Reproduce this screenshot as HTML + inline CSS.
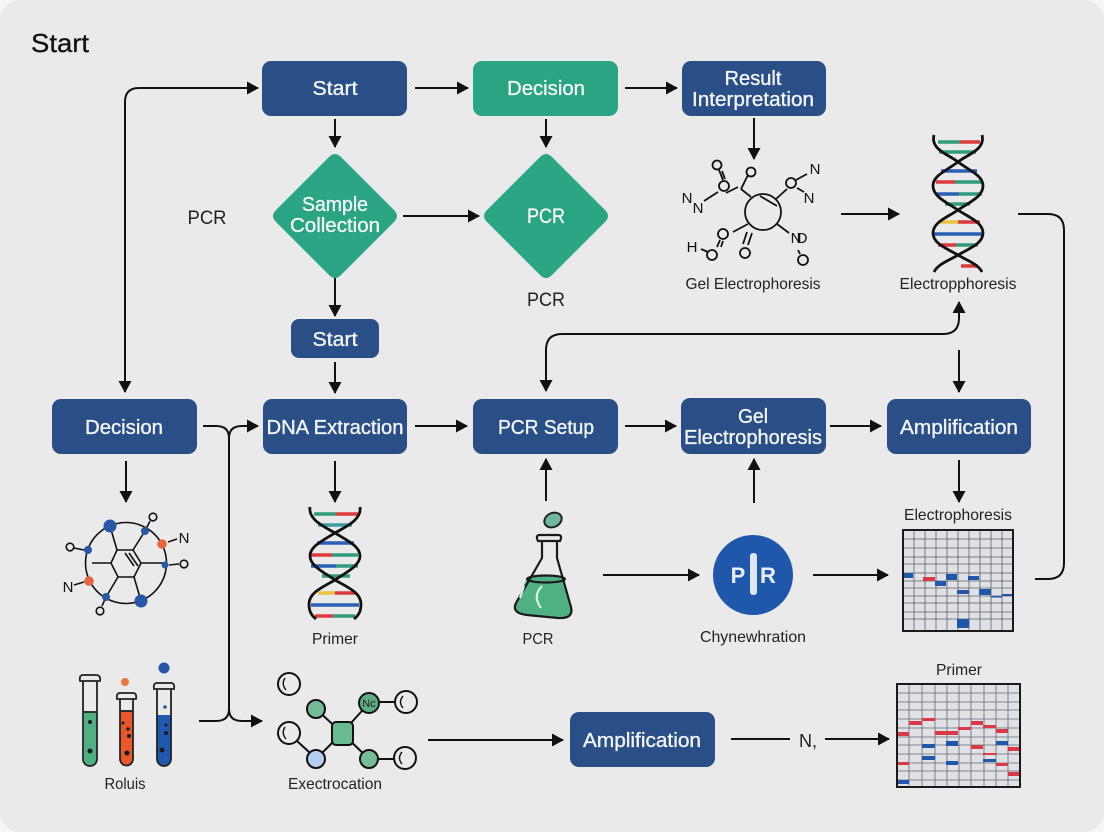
<!DOCTYPE html>
<html><head><meta charset="utf-8"><style>
html,body{margin:0;padding:0;background:#f6f6f6;width:1104px;height:832px;overflow:hidden}
svg{display:block}
text{font-family:"Liberation Sans",sans-serif;text-anchor:middle}
.b{fill:#f2f5f9;font-size:20px;stroke:#f2f5f9;stroke-width:.35}
.l{fill:#222;font-size:16px}
.c{fill:none;stroke:#111;stroke-width:2}
.r{fill:#2a4f86}
.g{fill:#2aa583}
.m{fill:none;stroke:#111;stroke-width:1.8}
.a{fill:#111;font-size:15px}
</style></head><body>
<svg width="1104" height="832" viewBox="0 0 1104 832" xmlns="http://www.w3.org/2000/svg">
<defs>
<marker id="h" markerUnits="userSpaceOnUse" markerWidth="13" markerHeight="14" refX="11" refY="6.5" orient="auto-start-reverse"><path d="M0 0L12 6.5L0 13Z" fill="#111"/></marker>
</defs>
<rect x="0" y="0" width="1104" height="832" rx="20" fill="#eaeaeb"/>
<text x="60" y="52" style="font-size:26px;fill:#111;stroke:#111;stroke-width:.3" textLength="58" lengthAdjust="spacingAndGlyphs">Start</text>

<!-- boxes -->
<rect class="r" x="262" y="61" width="145" height="55" rx="9"/>
<rect class="g" x="473" y="61" width="145" height="55" rx="9"/>
<rect class="r" x="682" y="61" width="144" height="55" rx="9"/>
<path class="g" d="M329 157Q335 151 341 157L394 210Q400 216 394 222L341 275Q335 281 329 275L276 222Q270 216 276 210Z"/>
<path class="g" d="M540 157Q546 151 552 157L605 210Q611 216 605 222L552 275Q546 281 540 275L487 222Q481 216 487 210Z"/>
<rect class="r" x="291" y="319" width="88" height="39" rx="8"/>
<rect class="r" x="52" y="399" width="145" height="55" rx="9"/>
<rect class="r" x="263" y="399" width="144" height="55" rx="9"/>
<rect class="r" x="473" y="399" width="145" height="55" rx="9"/>
<rect class="r" x="681" y="398" width="145" height="56" rx="9"/>
<rect class="r" x="887" y="399" width="144" height="55" rx="9"/>
<rect class="r" x="570" y="712" width="145" height="55" rx="9"/>

<text class="b" x="335" y="95" textLength="45" lengthAdjust="spacingAndGlyphs">Start</text>
<text class="b" x="546" y="95" textLength="78" lengthAdjust="spacingAndGlyphs">Decision</text>
<text class="b" x="753" y="85" textLength="57" lengthAdjust="spacingAndGlyphs">Result</text>
<text class="b" x="753" y="106" textLength="122" lengthAdjust="spacingAndGlyphs">Interpretation</text>
<text class="b" x="335" y="211" textLength="66" lengthAdjust="spacingAndGlyphs">Sample</text>
<text class="b" x="335" y="232" textLength="90" lengthAdjust="spacingAndGlyphs">Collection</text>
<text class="b" x="546" y="223" textLength="38" lengthAdjust="spacingAndGlyphs" style="font-size:21px">PCR</text>
<text class="b" x="335" y="346" textLength="45" lengthAdjust="spacingAndGlyphs">Start</text>
<text class="b" x="124" y="434" textLength="78" lengthAdjust="spacingAndGlyphs">Decision</text>
<text class="b" x="335" y="434" textLength="137" lengthAdjust="spacingAndGlyphs">DNA Extraction</text>
<text class="b" x="546" y="434" textLength="96" lengthAdjust="spacingAndGlyphs">PCR Setup</text>
<text class="b" x="753" y="423" textLength="30" lengthAdjust="spacingAndGlyphs">Gel</text>
<text class="b" x="753" y="444" textLength="138" lengthAdjust="spacingAndGlyphs">Electrophoresis</text>
<text class="b" x="959" y="434" textLength="118" lengthAdjust="spacingAndGlyphs">Amplification</text>
<text class="b" x="642" y="747" textLength="118" lengthAdjust="spacingAndGlyphs">Amplification</text>

<!-- connectors -->
<g class="c">
<path d="M125 392V102Q125 88 139 88H258" marker-start="url(#h)" marker-end="url(#h)"/>
<path d="M415 88H468" marker-end="url(#h)"/>
<path d="M625 88H677" marker-end="url(#h)"/>
<path d="M335 119V147" marker-end="url(#h)"/>
<path d="M546 119V147" marker-end="url(#h)"/>
<path d="M754 118V159" marker-end="url(#h)"/>
<path d="M403 216H479" marker-end="url(#h)"/>
<path d="M335 278V316" marker-end="url(#h)"/>
<path d="M335 362V393" marker-end="url(#h)"/>
<path d="M415 426H467" marker-end="url(#h)"/>
<path d="M625 426H676" marker-end="url(#h)"/>
<path d="M830 426H881" marker-end="url(#h)"/>
<path d="M959 350V392" marker-end="url(#h)"/>
<path d="M546 391V350Q546 334 562 334H943Q959 334 959 318V302" marker-start="url(#h)" marker-end="url(#h)"/>
<path d="M841 214H899" marker-end="url(#h)"/>
<path d="M1018 214H1048Q1064 214 1064 230V563Q1064 579 1048 579H1035"/>
<path d="M203 426H216Q229 426 229 438V709Q229 721 216 721H199"/>
<path d="M229 438Q229 426 242 426H258" marker-end="url(#h)"/>
<path d="M229 709Q229 721 242 721H262" marker-end="url(#h)"/>
<path d="M126 461V502" marker-end="url(#h)"/>
<path d="M335 461V502" marker-end="url(#h)"/>
<path d="M546 501V459" marker-end="url(#h)"/>
<path d="M754 503V459" marker-end="url(#h)"/>
<path d="M959 460V502" marker-end="url(#h)"/>
<path d="M603 575H699" marker-end="url(#h)"/>
<path d="M813 575H888" marker-end="url(#h)"/>
<path d="M428 740H563" marker-end="url(#h)"/>
<path d="M731 739H790"/>
<path d="M825 739H889" marker-end="url(#h)"/>
</g>
<text x="808" y="747" style="font-size:18px;fill:#222">N,</text>

<!-- top molecule -->
<g class="m">
<circle cx="763" cy="212" r="18"/>
<path d="M760 196L777 206"/>
<path d="M751 197L741 189M738 187L726 193"/>
<path d="M741 189L748 175"/>
<circle cx="751" cy="172" r="4.5"/><circle cx="724" cy="186" r="5"/><circle cx="717" cy="165" r="4.5"/>
<path d="M719 170L723 180M722 171L725 179"/>
<path d="M704 201L718 192"/>
<path d="M776 199L787 189"/><circle cx="791" cy="183" r="5"/>
<path d="M796 180L807 174M797 188L804 192"/>
<path d="M748 224L733 232"/><circle cx="723" cy="234" r="5"/><path d="M720 240L717 247M723 241L721 247"/>
<circle cx="712" cy="255" r="5"/><path d="M701 249L708 252"/>
<path d="M747 232L743 244M752 233L748 245"/><circle cx="745" cy="253" r="5"/>
<path d="M777 224L789 233"/><path d="M798 250L800 254"/><circle cx="803" cy="260" r="5"/>
</g>
<g class="a"><text x="687" y="203">N</text><text x="698" y="213">N</text><text x="815" y="174">N</text><text x="809" y="203">N</text><text x="692" y="252">H</text><text x="796" y="243">N</text><text x="802" y="243">D</text></g>

<!-- top DNA -->
<g stroke-width="3.5" fill="none">
<path d="M938 142H960" stroke="#2e9c7d"/><path d="M960 142H980" stroke="#dd3a3c"/>
<path d="M939 152H976" stroke="#2e9c7d"/>
<path d="M941 171H977" stroke="#2a5fb5"/>
<path d="M936 182H955" stroke="#dd3a3c"/><path d="M955 182H982" stroke="#2e9c7d"/>
<path d="M936 194H959" stroke="#2a5fb5"/><path d="M959 194H982" stroke="#2e9c7d"/>
<path d="M945 204H970" stroke="#2e9c7d"/>
<path d="M940 222H958" stroke="#eac341"/><path d="M958 222H980" stroke="#dd3a3c"/>
<path d="M934 234H983" stroke="#2a5fb5"/>
<path d="M938 245H956" stroke="#dd3a3c"/><path d="M956 245H978" stroke="#2e9c7d"/>
<path d="M961 266H978" stroke="#dd3a3c"/>
</g>
<g class="c" style="stroke-width:2.8">
<path d="M934 135C930 150 950 155 958 162C972 172 983 176 983 186C983 197 968 203 958 210C948 217 933 222 933 233C933 244 948 249 958 255C968 261 978 264 982 272"/>
<path d="M982 135C986 150 966 155 958 162C944 172 933 176 933 186C933 197 948 203 958 210C968 217 983 222 983 233C983 244 968 249 958 255C948 261 938 264 934 272"/>
</g>

<!-- mid DNA -->
<g stroke-width="3.5" fill="none">
<path d="M314 514H336" stroke="#2e9c7d"/><path d="M336 514H358" stroke="#dd3a3c"/>
<path d="M318 525H352" stroke="#3b9ea0"/>
<path d="M317 543H354" stroke="#2a5fb5"/>
<path d="M311 555H332" stroke="#dd3a3c"/><path d="M332 555H358" stroke="#2e9c7d"/>
<path d="M311 566H336" stroke="#2a5fb5"/><path d="M336 566H358" stroke="#2e9c7d"/>
<path d="M322 576H350" stroke="#2e9c7d"/>
<path d="M318 593H335" stroke="#eac341"/><path d="M335 593H355" stroke="#dd3a3c"/>
<path d="M311 605H359" stroke="#2a5fb5"/>
<path d="M315 616H333" stroke="#dd3a3c"/><path d="M333 616H355" stroke="#2e9c7d"/>
</g>
<g class="c" style="stroke-width:2.8">
<path d="M310 507C308 520 325 527 335 533C350 542 360 547 360 556C360 566 345 573 335 580C325 586 309 592 309 604C309 611 311 615 316 619"/>
<path d="M360 507C362 520 345 527 335 533C320 542 310 547 310 556C310 566 325 573 335 580C345 586 361 592 361 604C361 611 359 615 354 619"/>
</g>

<!-- left molecule -->
<g class="m" style="stroke-width:1.6">
<circle cx="126" cy="563" r="40.5"/>
<path d="M117 550H133L141 563L134 577H118L111 563Z"/>
<path d="M129 553L138 566M125 553L134 566"/>
<path d="M117 550L110 526M133 550L145 531M141 563H165M111 563H92M134 577L141 601M118 577L106 597"/>
<path d="M145 531L150 521M168 542L177 539M169 565L179 564M84 550L74 548M106 597L102 606M74 585L84 582"/>
<circle cx="153" cy="517" r="3.8"/><circle cx="70" cy="547" r="3.8"/><circle cx="184" cy="564" r="3.8"/><circle cx="100" cy="611" r="3.8"/>
</g>
<g fill="#2757a7"><circle cx="110" cy="526" r="6.5"/><circle cx="145" cy="531" r="4"/><circle cx="165" cy="565" r="3.5"/><circle cx="141" cy="601" r="6.5"/><circle cx="106" cy="597" r="4"/><circle cx="88" cy="550" r="4"/></g>
<g fill="#e8643f"><circle cx="162" cy="544" r="4.8"/><circle cx="89" cy="581" r="4.8"/></g>
<text class="a" x="184" y="543">N</text><text class="a" x="68" y="592">N</text>

<!-- tubes -->
<path d="M84 712H97V759A6.5 6.5 0 0 1 84 759Z" fill="#4fb083"/>
<path d="M120 711H133V759A6.5 6.5 0 0 1 120 759Z" fill="#e9582a"/>
<path d="M157 715H171V759A7 7 0 0 1 157 759Z" fill="#2159ae"/>
<g class="m" style="stroke:#222">
<path d="M83 681V759A7 7 0 0 0 97 759V681M80 681Q79 675 83 675H96Q101 675 100 681Z"/>
<path d="M84 712H97"/>
<path d="M120 699V759A6.5 6.5 0 0 0 133 759V699M117 699Q116 693 120 693H133Q137 693 136 699Z"/>
<path d="M120 711H133"/>
<path d="M157 689V759A7 7 0 0 0 171 759V689M154 689Q153 683 157 683H171Q175 683 174 689Z"/>
</g>
<circle cx="125" cy="682" r="4" fill="#e8773f"/><circle cx="164" cy="668" r="5.5" fill="#2757a7"/>
<g fill="#1a1a1a"><circle cx="90" cy="722" r="2"/><circle cx="90" cy="751" r="2.5"/><circle cx="123" cy="723" r="1.5"/><circle cx="128" cy="729" r="1.7"/><circle cx="129" cy="736" r="2"/><circle cx="127" cy="753" r="2.5"/><circle cx="166" cy="725" r="1.5"/><circle cx="166" cy="733" r="2"/><circle cx="162" cy="750" r="2.5"/></g>
<circle cx="165" cy="707" r="1.8" fill="#2757a7"/>

<!-- network molecule -->
<g class="m" style="stroke-width:2">
<path d="M316 709L342 733L369 703M342 733L316 759M342 733L369 759M379 702H395M378 759H394M297 741L309 752"/>
<rect x="332" y="722" width="21" height="23" rx="4" fill="#6bbb92"/>
<circle cx="316" cy="709" r="9" fill="#74bd98"/>
<circle cx="369" cy="703" r="10" fill="#5bad85"/>
<circle cx="369" cy="759" r="9" fill="#74bd98"/>
<circle cx="316" cy="759" r="9" fill="#b7cdf0"/>
<circle cx="289" cy="684" r="11"/><circle cx="289" cy="733" r="11"/><circle cx="406" cy="702" r="11"/><circle cx="405" cy="758" r="11"/>
<path d="M285 678Q281 684 286 690M285 727Q281 733 286 739M403 696Q398 702 403 708M402 752Q397 758 402 764" style="stroke-width:1.4"/>
</g>
<text x="369" y="707" style="font-size:11px;fill:#222">Nc</text>

<!-- flask -->
<ellipse cx="553" cy="520" rx="9" ry="7" fill="#6fb89b" stroke="#222" stroke-width="2" transform="rotate(-25 553 520)"/>
<path d="M527 578Q545 573 564 578L571 607Q573 618 560 618L527 615Q512 613 516 603Z" fill="#4fb083"/>
<g class="m" style="stroke-width:2.2;stroke:#1a1a1a">
<path d="M542 541V558L516 603Q511 613 527 615L558 618Q574 619 571 607L557 558V541"/>
<path d="M538 541Q535 535 540 535H558Q563 535 560 541Z"/>
<ellipse cx="546" cy="579" rx="19" ry="3.5"/>
</g>
<path d="M542 586Q532 596 541 608M524 586L520 598" stroke="#d6f0e3" stroke-width="2.2" fill="none"/>

<!-- PCR circle -->
<circle cx="753" cy="575" r="40" fill="#1f57ab"/>
<rect x="750" y="553" width="7" height="42" rx="3" fill="#dfe7f5"/>
<text x="738" y="583" style="font-size:22px;font-weight:bold;fill:#e8eef8">P</text>
<text x="768" y="583" style="font-size:22px;font-weight:bold;fill:#e8eef8">R</text>

<!-- grid 1 -->
<rect x="903" y="530" width="110" height="101" fill="#dfe1e5"/>
<path d="M914 530V631M925 530V631M936 530V631M947 530V631M958 530V631M969 530V631M980 530V631M991 530V631M1002 530V631M903 539H1013M903 548H1013M903 557H1013M903 564H1013M903 573H1013M903 581H1013M903 588H1013M903 596H1013M903 603H1013M903 612H1013M903 619H1013" stroke="#5c6068" stroke-width=".8" fill="none"/>
<g fill="#1f57ab"><rect x="904" y="573" width="9" height="5"/><rect x="935" y="581" width="11" height="5"/><rect x="946" y="574" width="11" height="6"/><rect x="957" y="590" width="12" height="4"/><rect x="968" y="576" width="11" height="4"/><rect x="979" y="589" width="12" height="6"/><rect x="991" y="596" width="11" height="1.5"/><rect x="1002" y="594" width="10" height="2"/><rect x="957" y="619" width="12" height="9"/></g>
<rect x="923" y="577" width="12" height="4" fill="#d93a45"/>
<rect x="903" y="530" width="110" height="101" fill="none" stroke="#1a1a1a" stroke-width="2"/>

<!-- grid 2 -->
<rect x="897" y="684" width="123" height="103" fill="#dfe1e5"/>
<path d="M909 684V787M922 684V787M935 684V787M947 684V787M959 684V787M971 684V787M984 684V787M996 684V787M1008 684V787M897 693H1020M897 702H1020M897 710H1020M897 719H1020M897 728H1020M897 737H1020M897 745H1020M897 754H1020M897 763H1020M897 771H1020M897 780H1020" stroke="#666a72" stroke-width=".8" fill="none"/>
<g fill="#d93a45"><rect x="898" y="732" width="11" height="4"/><rect x="909" y="721" width="13" height="4"/><rect x="922" y="718" width="13" height="3"/><rect x="935" y="731" width="11" height="4"/><rect x="946" y="731" width="12" height="4"/><rect x="958" y="727" width="13" height="3"/><rect x="971" y="721" width="12" height="4"/><rect x="983" y="725" width="13" height="3"/><rect x="996" y="729" width="12" height="4"/><rect x="971" y="745" width="12" height="4"/><rect x="1008" y="747" width="12" height="4"/><rect x="983" y="753" width="13" height="2"/><rect x="996" y="763" width="12" height="3"/><rect x="1008" y="772" width="12" height="4"/><rect x="898" y="762" width="11" height="3"/></g>
<g fill="#1f57ab"><rect x="922" y="744" width="13" height="4"/><rect x="946" y="741" width="12" height="5"/><rect x="996" y="741" width="12" height="4"/><rect x="922" y="756" width="13" height="4"/><rect x="946" y="761" width="12" height="4"/><rect x="983" y="759" width="13" height="3"/><rect x="898" y="780" width="11" height="4"/></g>
<rect x="897" y="684" width="123" height="103" fill="none" stroke="#1a1a1a" stroke-width="2"/>

<!-- labels -->
<text class="l" x="207" y="224" style="font-size:19px" textLength="39" lengthAdjust="spacingAndGlyphs">PCR</text>
<text class="l" x="546" y="306" style="font-size:19px" textLength="38" lengthAdjust="spacingAndGlyphs">PCR</text>
<text class="l" x="753" y="289" textLength="135" lengthAdjust="spacingAndGlyphs">Gel Electrophoresis</text>
<text class="l" x="958" y="289" textLength="117" lengthAdjust="spacingAndGlyphs">Electropphoresis</text>
<text class="l" x="958" y="520" textLength="108" lengthAdjust="spacingAndGlyphs">Electrophoresis</text>
<text class="l" x="335" y="644" textLength="46" lengthAdjust="spacingAndGlyphs">Primer</text>
<text class="l" x="538" y="644" textLength="31" lengthAdjust="spacingAndGlyphs">PCR</text>
<text class="l" x="753" y="642" textLength="106" lengthAdjust="spacingAndGlyphs">Chynewhration</text>
<text class="l" x="959" y="675" textLength="46" lengthAdjust="spacingAndGlyphs">Primer</text>
<text class="l" x="125" y="789" textLength="41" lengthAdjust="spacingAndGlyphs">Roluis</text>
<text class="l" x="335" y="789" textLength="94" lengthAdjust="spacingAndGlyphs">Exectrocation</text>
</svg>
</body></html>
